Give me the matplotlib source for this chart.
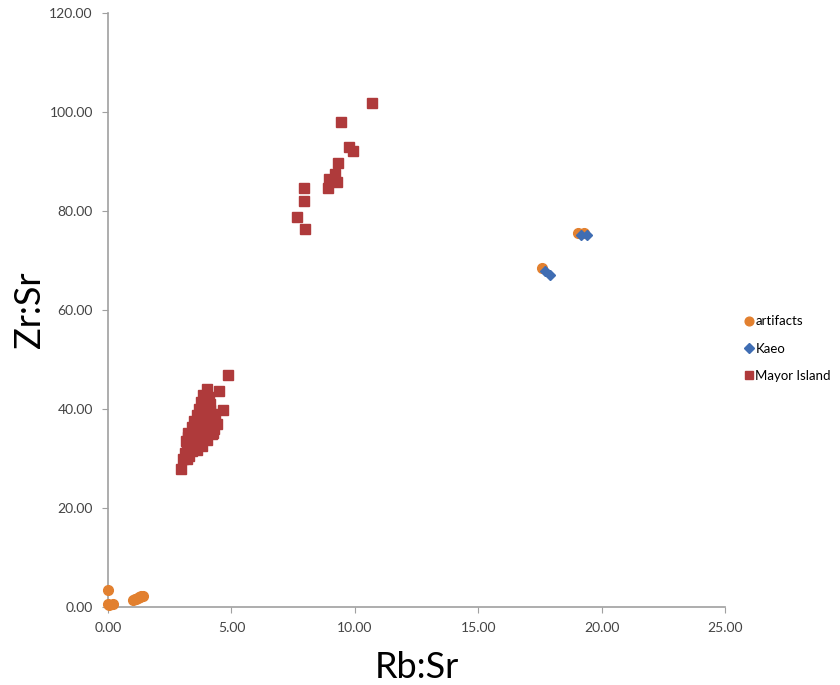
import matplotlib
matplotlib.use("Agg")
import matplotlib.pyplot as plt

# artifacts
art_x = [0.0, 0.0, 0.2, 0.05, 1.0, 1.1, 1.15, 1.2, 1.25, 1.3, 1.35, 1.4, 17.6, 19.05, 19.3]
art_y = [3.5, 0.6, 0.7, 0.4, 1.5, 1.7, 1.6, 1.8, 2.1, 2.0, 2.3, 2.2, 68.4, 75.5, 75.5]

# Kaeo source
kaeo_x = [17.7, 17.9, 19.15, 19.4]
kaeo_y = [67.9, 67.1, 75.2, 75.2]

# Mayor Island source
mayor_x = [10.68, 9.45, 9.77, 9.94, 9.32, 9.20, 8.95, 9.29, 8.93, 7.93, 7.93, 7.67, 7.97,
           2.97, 3.05, 3.2, 3.1, 3.3, 3.4, 3.2, 3.5, 3.6, 3.3, 3.45, 3.7, 3.8, 3.25, 3.55,
           3.9, 4.0, 3.4, 3.65, 3.85, 4.1, 4.2, 3.5, 3.75, 4.0, 4.2, 3.6, 3.85, 4.05, 4.3,
           3.7, 3.95, 4.15, 3.75, 4.0, 4.1, 3.85, 4.0, 4.5, 4.67, 4.85, 3.35, 3.6, 3.75,
           3.9, 3.7, 3.55, 4.15, 3.9, 3.5, 3.15, 3.25, 4.3, 4.1, 3.8, 4.35, 4.4, 4.25]
mayor_y = [101.8, 98.0, 92.9, 92.2, 89.8, 87.4, 86.4, 85.9, 84.6, 84.6, 82.0, 78.8, 76.4,
           27.9, 30.0, 29.8, 31.2, 30.5, 31.5, 32.4, 32.8, 31.8, 33.9, 34.6, 33.5, 32.6, 35.2, 35.5,
           34.5, 33.8, 36.3, 36.8, 36.0, 35.6, 34.9, 37.5, 38.0, 37.2, 36.7, 38.7, 39.3, 38.6, 37.8,
           40.0, 40.5, 39.8, 41.5, 41.8, 42.5, 42.8, 44.0, 43.7, 39.8, 46.8, 33.2, 34.2, 35.1,
           37.5, 36.2, 33.7, 41.0, 38.4, 36.0, 33.5, 34.3, 36.0, 37.8, 40.7, 38.9, 37.0, 35.2]

x_ticks = [0, 5, 10, 15, 20, 25]
y_ticks = [0, 20, 40, 60, 80, 100, 120]

plt.rcParams['font.family'] = ['Lato', 'DejaVu Sans']

fig = plt.figure(figsize=(8.4, 6.85), dpi=100)
ax = fig.add_axes([0.1286, 0.1139, 0.7345, 0.867])

ax.plot(art_x, art_y, 'o', color='#E2802F', markersize=7, label='artifacts', clip_on=False, zorder=3)
ax.plot(kaeo_x, kaeo_y, 'D', color='#3F6DB3', markersize=5.5, label='Kaeo', clip_on=False, zorder=3)
ax.plot(mayor_x, mayor_y, 's', color='#AF3A3B', markersize=7, label='Mayor Island', clip_on=False, zorder=3)

ax.set_xlim(0, 25)
ax.set_ylim(0, 120)
ax.set_xticks(x_ticks)
ax.set_yticks(y_ticks)
ax.set_xticklabels([f"{v:.2f}" for v in x_ticks])
ax.set_yticklabels([f"{v:.2f}" for v in y_ticks])
ax.tick_params(labelsize=10, colors='#444444', length=4, color='#a0a0a0', pad=7)

for s in ['top', 'right']:
    ax.spines[s].set_visible(False)
for s in ['left', 'bottom']:
    ax.spines[s].set_color('#a0a0a0')
    ax.spines[s].set_linewidth(1.2)

ax.set_xlabel("Rb:Sr", fontsize=26, labelpad=12)
ax.set_ylabel("Zr:Sr", fontsize=26, labelpad=2)

ax.legend(loc='center left', bbox_to_anchor=(1.015, 0.435), frameon=False,
          fontsize=9.5, handletextpad=0.1, labelspacing=1.15, handlelength=0.8,
          borderaxespad=0.3, markerscale=0.9)

fig.savefig("out.png", dpi=100)
